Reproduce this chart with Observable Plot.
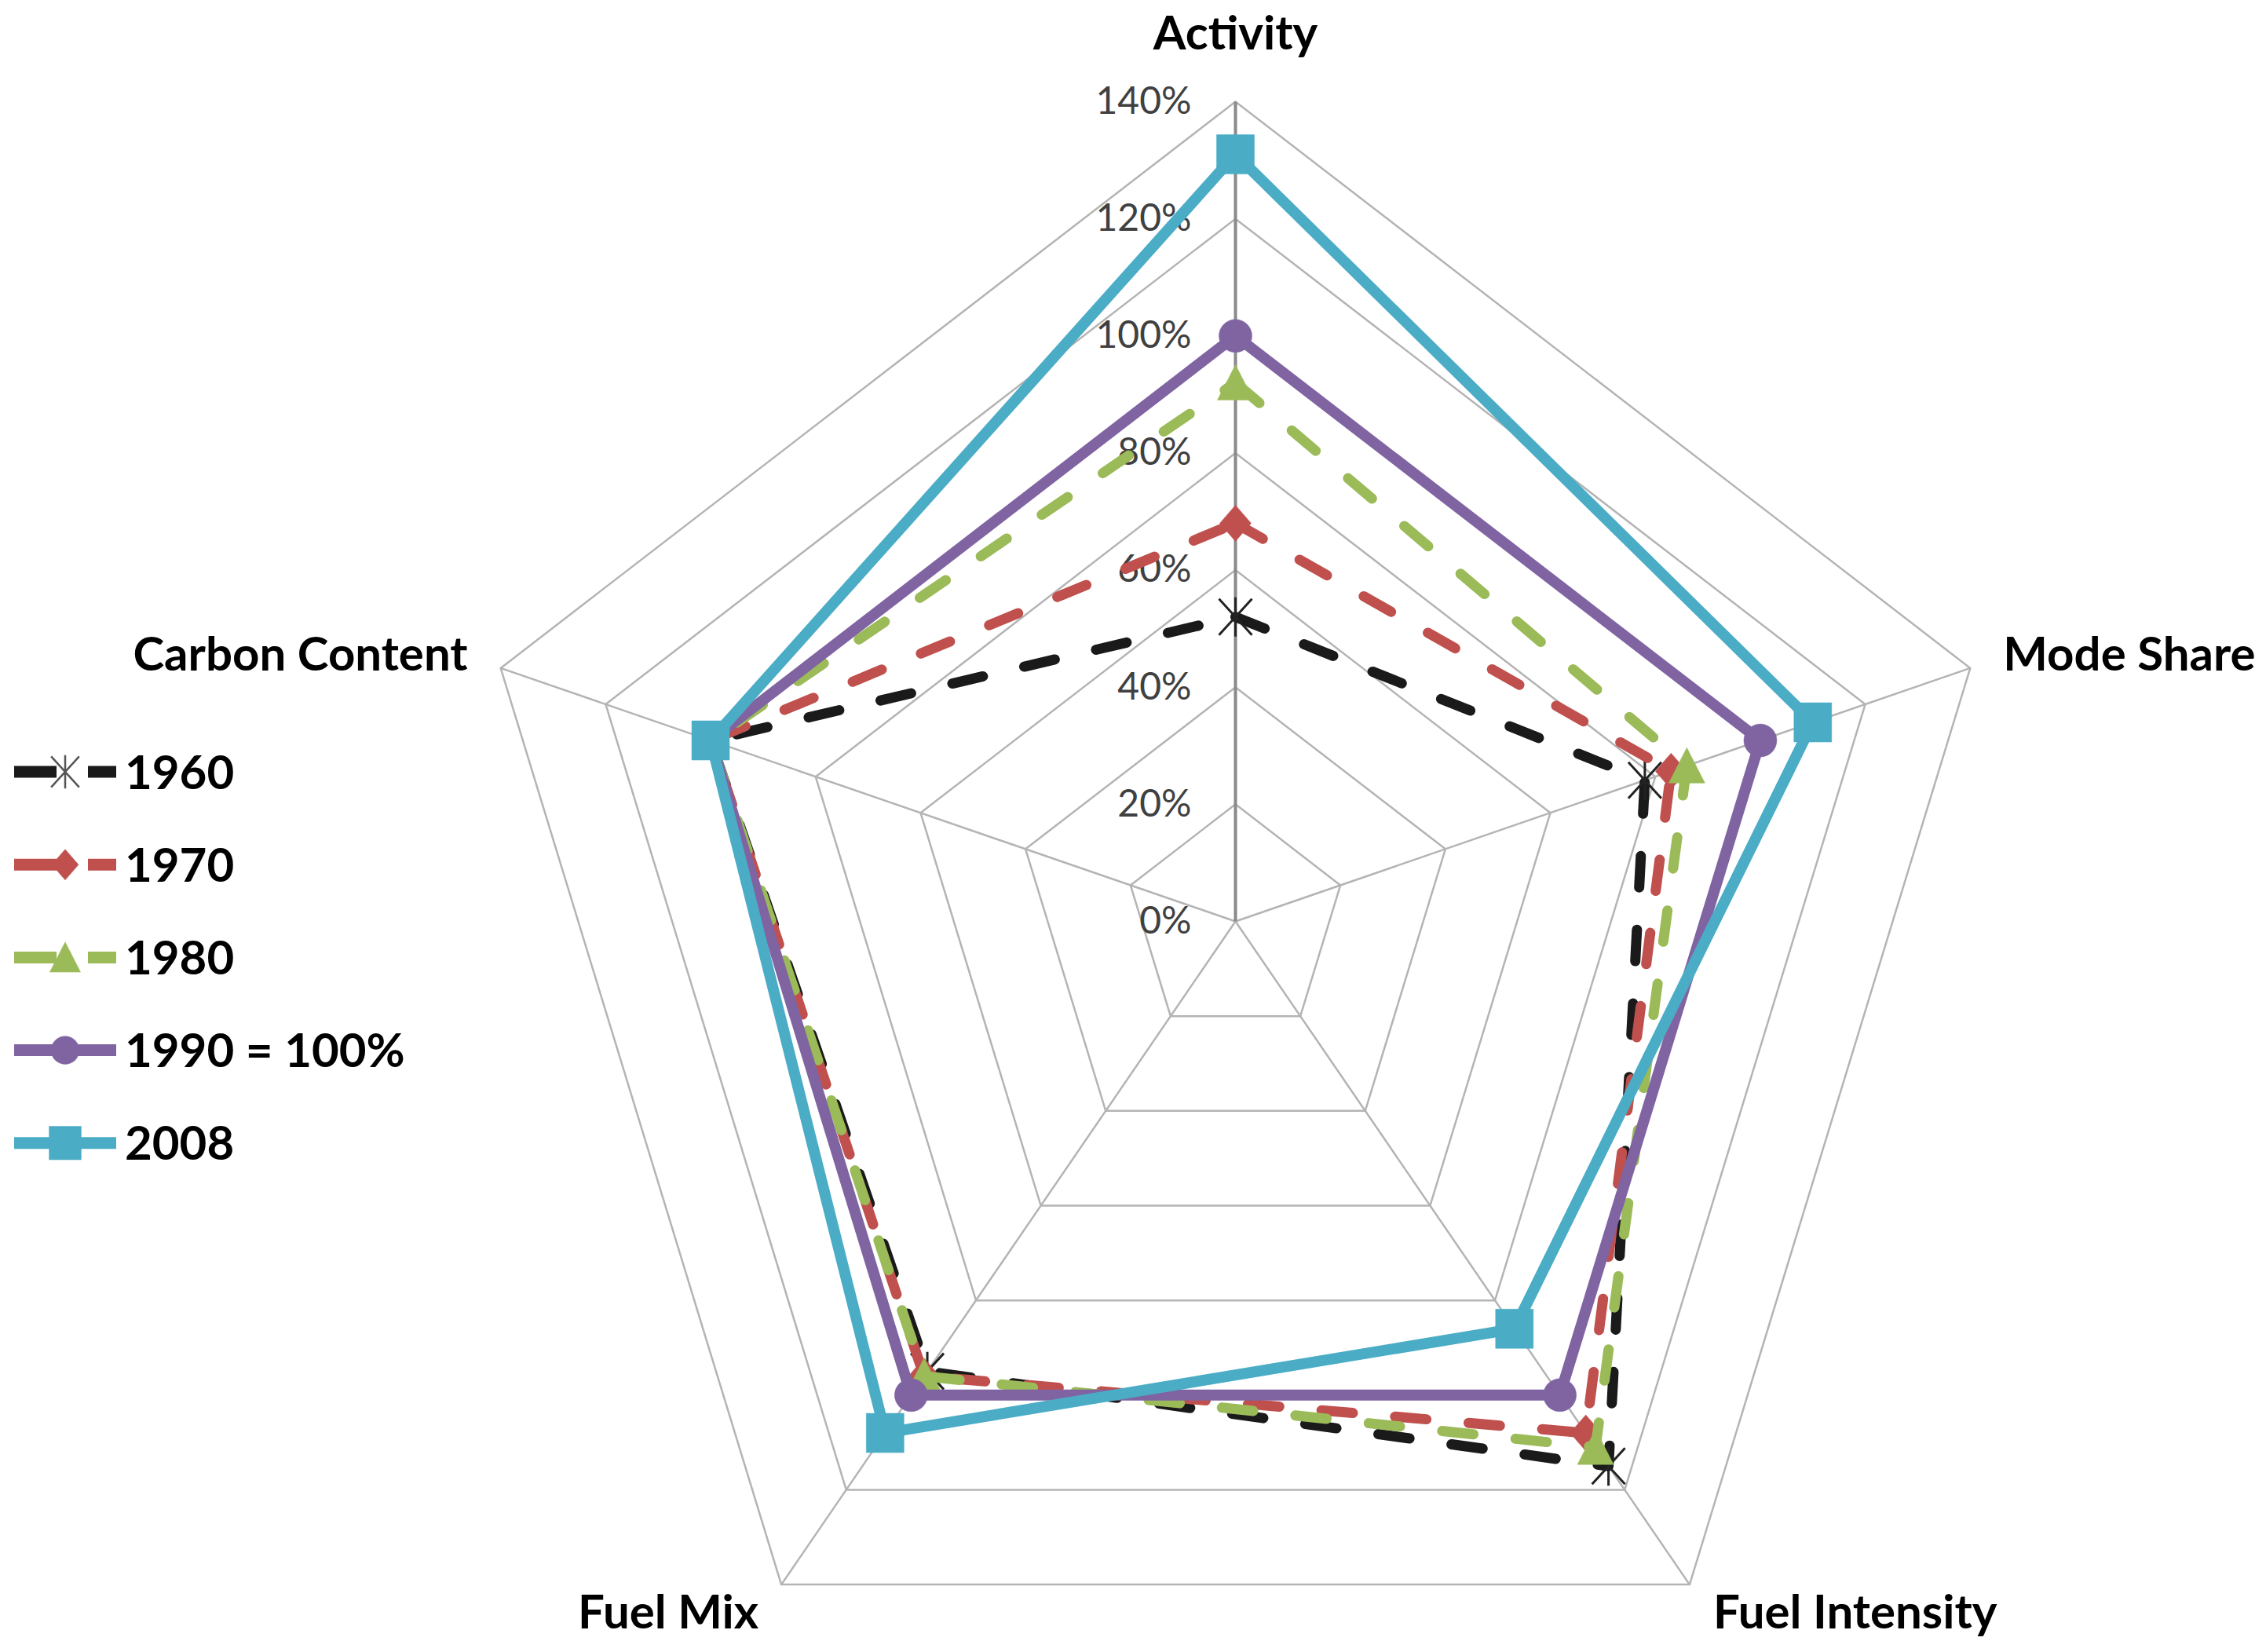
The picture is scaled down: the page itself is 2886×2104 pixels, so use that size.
<!DOCTYPE html>
<html>
<head>
<meta charset="utf-8">
<script src="https://cdn.jsdelivr.net/npm/d3@7"></script>
<script src="https://cdn.jsdelivr.net/npm/@observablehq/plot@0.6"></script>
<style>
  html, body { margin: 0; padding: 0; background: #ffffff; }
  #wrap { position: relative; width: 2886px; height: 2104px; overflow: hidden; }
  #chart { position: absolute; left: 0; top: 0; }
  #legend { position: absolute; left: 0; top: 0; }
</style>
</head>
<body>
<div id="wrap">
  <div id="chart"></div>
  <svg id="legend" width="720" height="2104"></svg>
</div>
<script>
// ---------- data ----------
const axisNames = ["Activity", "Mode Share", "Fuel Intensity", "Fuel Mix", "Carbon Content"];
const seriesNames = ["1960", "1970", "1980", "1990 = 100%", "2008"];
const values1960 = [52, 78, 115, 95, 100];
const values1970 = [68, 83, 108, 96, 100];
const values1980 = [92, 86, 111, 96, 100];
const values1990 = [100, 100, 100, 100, 100];
const values2008 = [131, 110, 86, 108, 100];
const tickValues = [0, 20, 40, 60, 80, 100, 120, 140];
const seriesColors = ["#1a1a1a", "#c0504d", "#9bbb59", "#8064a2", "#4bacc6"];

const allValues = [values1960, values1970, values1980, values1990, values2008];
const maxValue = 140;

// ---------- symbols ----------
function makeSymbols(k) {
  return {
    star: { draw(c) { c.moveTo(0, -25*k); c.lineTo(0, 25*k); c.moveTo(-21*k, -23*k); c.lineTo(21*k, 23*k); c.moveTo(21*k, -23*k); c.lineTo(-21*k, 23*k); } },
    diamond: { draw(c) { c.moveTo(0, -23*k); c.lineTo(20*k, 0); c.lineTo(0, 23*k); c.lineTo(-20*k, 0); c.closePath(); } },
    triangle: { draw(c) { c.moveTo(0, -23*k); c.lineTo(23*k, 22*k); c.lineTo(-23*k, 22*k); c.closePath(); } },
    circle: { draw(c) { c.moveTo(21*k, 0); c.arc(0, 0, 21*k, 0, 2 * Math.PI); c.closePath(); } },
    square: { draw(c) { c.rect(-24*k, -25*k, 48*k, 50*k); } }
  };
}
const chartSyms = makeSymbols(1);
const legendSyms = makeSymbols(0.85);
const symbolKeys = ["star", "diamond", "triangle", "circle", "square"];
const dashed = [true, true, true, false, false];

// ---------- geometry helpers (data space, y up) ----------
const angle = i => i * 2 * Math.PI / axisNames.length;
const px = (v, i) => v * Math.sin(angle(i));
const py = (v, i) => v * Math.cos(angle(i));

const ringData = [];
tickValues.slice(1).forEach(t => axisNames.forEach((a, i) => ringData.push({ t, x: px(t, i), y: py(t, i) })));
const spokeData = axisNames.map((a, i) => ({ name: a, i, x0: 0, y0: 0, x: px(maxValue, i), y: py(maxValue, i) }));

const seriesPoints = seriesNames.map((s, k) =>
  axisNames.map((a, i) => ({ series: s, axis: a, v: allValues[k][i], x: px(allValues[k][i], i), y: py(allValues[k][i], i) }))
);

// ---------- marks ----------
const marks = [];
marks.push(Plot.line(ringData, { x: "x", y: "y", z: "t", curve: "linear-closed", stroke: "#b4b4b4", strokeWidth: 2.5 }));
marks.push(Plot.link(spokeData.filter(d => d.i !== 0), { x1: "x0", y1: "y0", x2: "x", y2: "y", stroke: "#b4b4b4", strokeWidth: 2.5 }));
marks.push(Plot.link(spokeData.filter(d => d.i === 0), { x1: "x0", y1: "y0", x2: "x", y2: "y", stroke: "#8a8a8a", strokeWidth: 4 }));
marks.push(Plot.text(tickValues, { x: d => 0, y: d => d, text: d => d + "%", textAnchor: "end", lineAnchor: "middle", dx: -56, fontSize: 48, fill: "#404040", fontFamily: "Lato" }));

seriesPoints.forEach((pts, k) => {
  marks.push(Plot.line(pts, {
    x: "x", y: "y", curve: "linear-closed",
    stroke: seriesColors[k], strokeWidth: dashed[k] ? 13 : 14,
    strokeDasharray: dashed[k] ? "40,54" : null,
    strokeLinecap: dashed[k] ? "round" : "butt",
    strokeLinejoin: "round"
  }));
  const isStar = symbolKeys[k] === "star";
  marks.push(Plot.dot(pts, {
    x: "x", y: "y", r: 10, symbol: chartSyms[symbolKeys[k]],
    fill: isStar ? "none" : seriesColors[k],
    stroke: isStar ? "#222222" : seriesColors[k],
    strokeWidth: isStar ? 3 : 0.5
  }));
});

// axis labels
const labelOffsets = [
  { dx: 0, dy: -86, anchor: "middle" },
  { dx: 42, dy: -16, anchor: "start" },
  { dx: 30, dy: 37, anchor: "start" },
  { dx: -29, dy: 37, anchor: "end" },
  { dx: -42, dy: -16, anchor: "end" }
];
spokeData.forEach((d, i) => {
  marks.push(Plot.text([d], {
    x: "x", y: "y", text: "name",
    dx: labelOffsets[i].dx, dy: labelOffsets[i].dy,
    textAnchor: labelOffsets[i].anchor, lineAnchor: "middle",
    fontSize: 60, fontWeight: "bold", fill: "#000000", fontFamily: "Lato"
  }));
});

const chart = Plot.plot({
  width: 2886,
  height: 2104,
  margin: 0,
  style: { background: "#ffffff", fontFamily: "Lato", overflow: "visible" },
  x: { type: "linear", domain: [-maxValue, maxValue], range: [589, 2557], axis: null },
  y: { type: "linear", domain: [-maxValue, maxValue], range: [2217, 129], axis: null },
  marks
});
document.getElementById("chart").appendChild(chart);

// ---------- legend ----------
const leg = d3.select("#legend");
const legTop = 983, legStep = 118.2;
seriesNames.forEach((name, k) => {
  const cy = legTop + k * legStep;
  const g = leg.append("g");
  const segs = dashed[k] ? [[18, 72], [112, 148]] : [[18, 148]];
  segs.forEach(([a, b]) => {
    g.append("line").attr("x1", a).attr("x2", b).attr("y1", cy).attr("y2", cy)
      .attr("stroke", seriesColors[k]).attr("stroke-width", 15);
  });
  const isStar = symbolKeys[k] === "star";
  g.append("path")
    .attr("transform", `translate(83,${cy})`)
    .attr("d", d3.symbol(legendSyms[symbolKeys[k]], 100)())
    .attr("fill", isStar ? "none" : seriesColors[k])
    .attr("stroke", isStar ? "#555555" : seriesColors[k])
    .attr("stroke-width", isStar ? 2.5 : 0.5);
  g.append("text")
    .attr("x", 159).attr("y", cy + 0.36 * 60)
    .attr("font-family", "Lato").attr("font-weight", "bold").attr("font-size", 60)
    .attr("fill", "#000000")
    .text(name);
});
</script>
</body>
</html>
